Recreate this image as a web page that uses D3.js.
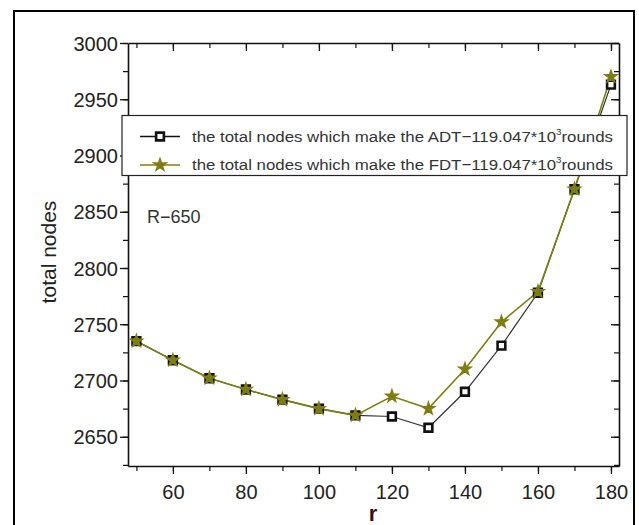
<!DOCTYPE html>
<html><head><meta charset="utf-8">
<script src="https://cdn.jsdelivr.net/npm/d3@7/dist/d3.min.js"></script>
<style>body{margin:0;background:#fff;} text{font-family:"Liberation Sans",Arial,sans-serif;}</style>
</head><body><svg id="c" width="639" height="525"></svg>
<script>
const rValues = [50,60,70,80,90,100,110,120,130,140,150,160,170,180];
const adtNodes = [2735,2718,2702,2692,2683,2675,2669,2668,2658,2690,2731,2778,2870,2963];
const fdtNodes = [2735,2718,2702,2692,2683,2675,2669,2686,2675,2710,2752,2779,2870,2970];
const xTicks = [60,80,100,120,140,160,180];
const yTicks = [2650,2700,2750,2800,2850,2900,2950,3000];
const seriesNames = ["the total nodes which make the ADT\u2212119.047*10","the total nodes which make the FDT\u2212119.047*10"];

const svg = d3.select("#c");
const L=128, R=619, T=43, B=466;
const x = d3.scaleLinear().domain([47.7,182.2]).range([L,R]);
const y = d3.scaleLinear().domain([2624,3000]).range([B,T]);
const olive = "#7d7d12";

// outer frame
svg.append("rect").attr("x",14).attr("y",11).attr("width",620).attr("height",530)
  .attr("fill","none").attr("stroke","#000").attr("stroke-width",2);

const xMinor = d3.range(50,181,10);
const yMinor = d3.range(2625,3001,25);

function styleAxis(g){
  g.selectAll(".domain").attr("stroke","#111").attr("stroke-width",1.6);
  g.selectAll(".tick line").attr("stroke","#111").attr("stroke-width",1.3);
  g.selectAll("text").attr("font-size",20).attr("fill","#222").attr("font-family","Liberation Sans, Arial, sans-serif");
}
function minor(axisFn, scale, vals, size, tr){
  const g = svg.append("g").attr("transform",tr).call(axisFn(scale).tickValues(vals).tickSize(size).tickFormat(""));
  g.select(".domain").remove();
  g.selectAll(".tick line").attr("stroke","#111").attr("stroke-width",1.2);
}
minor(d3.axisBottom, x, xMinor, 5, `translate(0,${B})`);
minor(d3.axisTop, x, xMinor, -5, `translate(0,${T})`);
minor(d3.axisLeft, y, yMinor, 5, `translate(${L},0)`);
minor(d3.axisRight, y, yMinor, -5, `translate(${R},0)`);

const fmt = d3.format("d");
const gx = svg.append("g").attr("transform",`translate(0,${B})`)
  .call(d3.axisBottom(x).tickValues(xTicks).tickFormat(fmt).tickSize(8).tickPadding(11).tickSizeOuter(0));
styleAxis(gx);
const gxt = svg.append("g").attr("transform",`translate(0,${T})`)
  .call(d3.axisTop(x).tickValues(xTicks).tickSize(-8).tickFormat("").tickSizeOuter(0));
styleAxis(gxt);
const gy = svg.append("g").attr("transform",`translate(${L},0)`)
  .call(d3.axisLeft(y).tickValues(yTicks).tickFormat(fmt).tickSize(8).tickPadding(2).tickSizeOuter(0));
styleAxis(gy);
gy.selectAll("text").attr("dy","0.36em");
const gyr = svg.append("g").attr("transform",`translate(${R},0)`)
  .call(d3.axisRight(y).tickValues(yTicks).tickSize(-8).tickFormat("").tickSizeOuter(0));
styleAxis(gyr);

// axis titles
svg.append("text").attr("transform","translate(56,252) rotate(-90)").attr("text-anchor","middle")
  .attr("font-size",21).attr("fill","#222").text("total nodes");
svg.append("text").attr("x",373).attr("y",521).attr("text-anchor","middle")
  .attr("font-size",22).attr("font-weight","bold").attr("fill","#3a1010").text("r");

// lines
const line = (vals)=>d3.line().x((d,i)=>x(rValues[i])).y(d=>y(d))(vals);
svg.append("path").attr("d",line(adtNodes)).attr("fill","none").attr("stroke","#333").attr("stroke-width",1.2);
svg.append("path").attr("d",line(fdtNodes)).attr("fill","none").attr("stroke",olive).attr("stroke-width",1.6);

const sq = d3.symbol().type(d3.symbolSquare).size(60);
const st = d3.symbol().type(d3.symbolStar).size(45);
function square(g,cx,cy){
  g.append("path").attr("d",sq()).attr("transform",`translate(${cx},${cy})`)
   .attr("fill","#fff").attr("stroke","#111").attr("stroke-width",2.6);
}
function star(g,cx,cy){
  g.append("path").attr("d",st()).attr("transform",`translate(${cx},${cy})`)
   .attr("fill",olive).attr("stroke",olive).attr("stroke-width",1.5);
}
const mk = svg.append("g");
adtNodes.forEach((v,i)=>square(mk,x(rValues[i]),y(v)));
fdtNodes.forEach((v,i)=>star(mk,x(rValues[i]),y(v)));

// legend
const lg = svg.append("g");
lg.append("rect").attr("x",122).attr("y",115.5).attr("width",505).attr("height",60)
  .attr("fill","#fff").attr("stroke","#222").attr("stroke-width",1.2);
const rows=[136.5,165];
[0,1].forEach(i=>{
  lg.append("line").attr("x1",140).attr("x2",180).attr("y1",rows[i]).attr("y2",rows[i])
    .attr("stroke", i===0?"#111":olive).attr("stroke-width",1.5);
  if(i===0) square(lg,160,rows[i]); else star(lg,160,rows[i]);
  const t = lg.append("text").attr("x",192).attr("y",rows[i]+5).attr("font-size",15.5).attr("fill","#333")
    .attr("textLength",421).attr("lengthAdjust","spacingAndGlyphs");
  t.append("tspan").text(seriesNames[i]);
  t.append("tspan").attr("dy",-7).attr("font-size",9).text("3");
  t.append("tspan").attr("dy",7).text("rounds");
});
svg.append("text").attr("x",147).attr("y",223).attr("font-size",18).attr("fill","#333").text("R\u2212650");
</script></body></html>
